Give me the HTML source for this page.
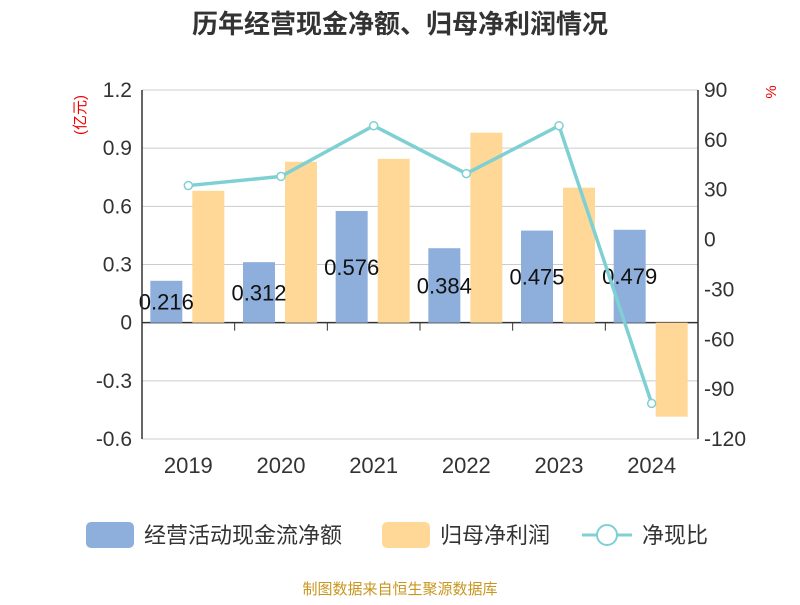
<!DOCTYPE html>
<html><head><meta charset="utf-8"><style>
body{margin:0;background:#fff;font-family:"Liberation Sans","Noto Sans CJK SC",sans-serif}
svg text{font-family:"Liberation Sans","Noto Sans CJK SC",sans-serif}
</style></head><body>
<svg id="c" width="800" height="600">
<text x="400" y="33" text-anchor="middle" font-size="26" font-weight="bold" fill="#333">历年经营现金净额、归母净利润情况</text>
<text x="85" y="115" font-size="15" fill="#e00" transform="rotate(-90 85 115)" text-anchor="middle">(亿元)</text>
<text x="776" y="92" font-size="15" fill="#e00" transform="rotate(-90 776 92)" text-anchor="middle">%</text>
<g id="grid"></g><g id="bars"></g><g id="axes"></g><g id="line"></g>
<g>
<rect x="86" y="522" width="48" height="26" rx="5" fill="#8eaedb"/>
<text x="144" y="543" font-size="22" fill="#333">经营活动现金流净额</text>
<rect x="382" y="522" width="48" height="26" rx="5" fill="#ffd897"/>
<text x="440" y="543" font-size="22" fill="#333">归母净利润</text>
<line x1="582" y1="535" x2="632" y2="535" stroke="#7fd0d3" stroke-width="3"/>
<circle cx="607" cy="535" r="10" fill="#fff" stroke="#7fd0d3" stroke-width="2"/>
<text x="642" y="543" font-size="22" fill="#333">净现比</text>
</g>
<text x="400" y="594" text-anchor="middle" font-size="15" fill="#c8961e">制图数据来自恒生聚源数据库</text>
</svg>
<script>
const categories=["2019","2020","2021","2022","2023","2024"];
const cashFlow=[0.216,0.312,0.576,0.384,0.475,0.479];
const netProfit=[0.68,0.83,0.845,0.98,0.696,-0.485];
const ratio=[32.5,38,68.5,39.7,68.5,-98.6];
const leftTicks=[1.2,0.9,0.6,0.3,0,-0.3,-0.6];
const rightTicks=[90,60,30,0,-30,-60,-90,-120];
const NS="http://www.w3.org/2000/svg";
const X0=142,X1=698,YT=90,YB=439;
const yL=v=>YT+(1.2-v)/1.8*(YB-YT);
const yR=v=>YT+(90-v)/210*(YB-YT);
const bw=(X1-X0)/categories.length;
const xc=i=>X0+bw*(i+0.5);
function mk(t,a,p){const e=document.createElementNS(NS,t);for(const k in a)e.setAttribute(k,a[k]);document.getElementById(p).appendChild(e);return e;}
leftTicks.forEach((v,i)=>{
 const g=mk("line",{x1:X0,x2:X1,y1:yL(v),y2:yL(v),stroke:v===0?"#333":"#ccc","stroke-width":v===0?1.5:1},"grid");
 
 
 const t=mk("text",{x:X0-10,y:yL(v)+7,"text-anchor":"end","font-size":21,fill:"#333"},"axes");
 t.textContent=v===0?"0":v.toFixed(1);
 
 
});
rightTicks.forEach(v=>{
 const t=mk("text",{x:X1+6,y:yR(v)+7,"font-size":21,fill:"#333"},"axes");
 t.textContent=v;
 
 
});
[[X0],[X1]].forEach(([x])=>{const l=mk("line",{x1:x,x2:x,y1:YT,y2:YB,stroke:"#333","stroke-width":1.5},"axes");
 
 });
categories.forEach((c,i)=>{
 if(i>0){const tk=mk("line",{x1:X0+bw*i,x2:X0+bw*i,y1:yL(0),y2:yL(0)+8,stroke:"#333"},"axes");
  
  }
 const t=mk("text",{x:xc(i),y:473,"text-anchor":"middle","font-size":22,fill:"#333"},"axes");
 t.textContent=c;
 
 
 const b1=mk("rect",{x:xc(i)-38,width:32,y:Math.min(yL(cashFlow[i]),yL(0)),height:Math.abs(yL(cashFlow[i])-yL(0)),fill:"#8eaedb"},"bars");
 
 
 const b2=mk("rect",{x:xc(i)+4,width:32,y:Math.min(yL(netProfit[i]),yL(0)),height:Math.abs(yL(netProfit[i])-yL(0)),fill:"#ffd897"},"bars");
 
 
 const lb=mk("text",{x:xc(i)-22,y:(yL(cashFlow[i])+yL(0))/2+8,"text-anchor":"middle","font-size":22,fill:"#111"},"bars");
 lb.textContent=cashFlow[i];
 
 
});
const pl=mk("polyline",{points:ratio.map((v,i)=>xc(i)+","+yR(v)).join(" "),fill:"none",stroke:"#7fd0d3","stroke-width":3.5},"line");


ratio.forEach((v,i)=>{const p=mk("circle",{cx:xc(i),cy:yR(v),r:4,fill:"#fff",stroke:"#7fd0d3","stroke-width":1.5},"line");
 
 });
</script>
</body></html>
